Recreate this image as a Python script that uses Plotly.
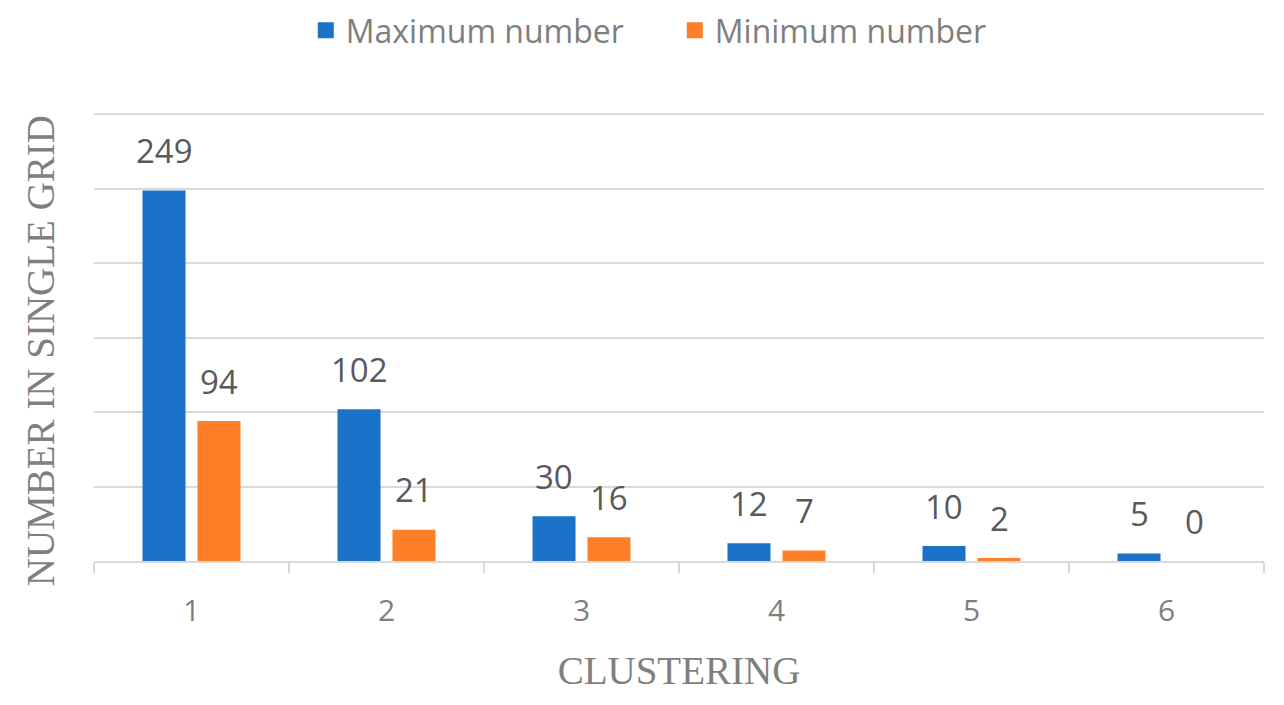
import plotly.graph_objects as go

categories = ["1", "2", "3", "4", "5", "6"]
max_values = [249, 102, 30, 12, 10, 5]
min_values = [94, 21, 16, 7, 2, 0]
series_names = ["Maximum number", "Minimum number"]

BLUE = "#1a73c8"
ORANGE = "#fe7f27"
GRID = "#d9d9d9"
LABEL = "#595959"
TITLE = "#7f7f7f"

fig = go.Figure()
fig.add_trace(go.Bar(x=categories, y=max_values, name=series_names[0], showlegend=False,
                     marker=dict(color=BLUE, line=dict(width=0))))
fig.add_trace(go.Bar(x=categories, y=min_values, name=series_names[1], showlegend=False,
                     marker=dict(color=ORANGE, line=dict(width=0))))
# legend entries with larger square swatches
for name, col in zip(series_names, (BLUE, ORANGE)):
    fig.add_trace(go.Scatter(x=[None], y=[None], mode="markers", name=name,
                             marker=dict(symbol="square", size=19, color=col)))

annotations = []
for vals, shift in ((max_values, -27.5), (min_values, 27.5)):
    for i, v in enumerate(vals):
        annotations.append(dict(x=i, y=v, xref="x", yref="y", text=str(v),
                                showarrow=False, xshift=shift, yshift=40,
                                yanchor="middle",
                                font=dict(family="Open Sans", size=33, color=LABEL)))
annotations.append(dict(x=-0.046, y=0.4686, xref="paper", yref="paper",
                        text="NUMBER IN SINGLE GRID", textangle=-90, showarrow=False,
                        xanchor="center", yanchor="middle",
                        font=dict(family="Liberation Serif", size=39, color=TITLE)))

fig.update_layout(
    width=1284, height=705,
    paper_bgcolor="white", plot_bgcolor="white",
    margin=dict(l=94, r=20, t=113, b=144, autoexpand=False),
    barmode="group", bargap=0.436, bargroupgap=0.218,
    legend=dict(orientation="h", x=0.181, xanchor="left", y=1.184, yanchor="middle",
                font=dict(family="Open Sans", size=32, color=TITLE),
                itemsizing="trace", entrywidth=324, entrywidthmode="pixels"),
    annotations=annotations,
    xaxis=dict(type="category", range=[-0.5, 5.5], tickson="boundaries",
               ticks="outside", ticklen=10, tickwidth=2, tickcolor=GRID,
               showline=True, linecolor=GRID, linewidth=2, showgrid=False,
               automargin=False, ticklabelstandoff=22,
               tickfont=dict(family="Open Sans", size=30, color=TITLE),
               title=dict(text="CLUSTERING", standoff=28,
                          font=dict(family="Liberation Serif", size=39, color=TITLE))),
    yaxis=dict(range=[0, 301], tickvals=[50, 100, 150, 200, 250, 300],
               showticklabels=False, ticks="",
               showgrid=True, gridcolor=GRID, gridwidth=2, zeroline=False,
               showline=False, automargin=False),
    showlegend=True,
)

fig.write_html("out.html", config={"displayModeBar": False},
               post_script="document.body.style.margin='0';")
